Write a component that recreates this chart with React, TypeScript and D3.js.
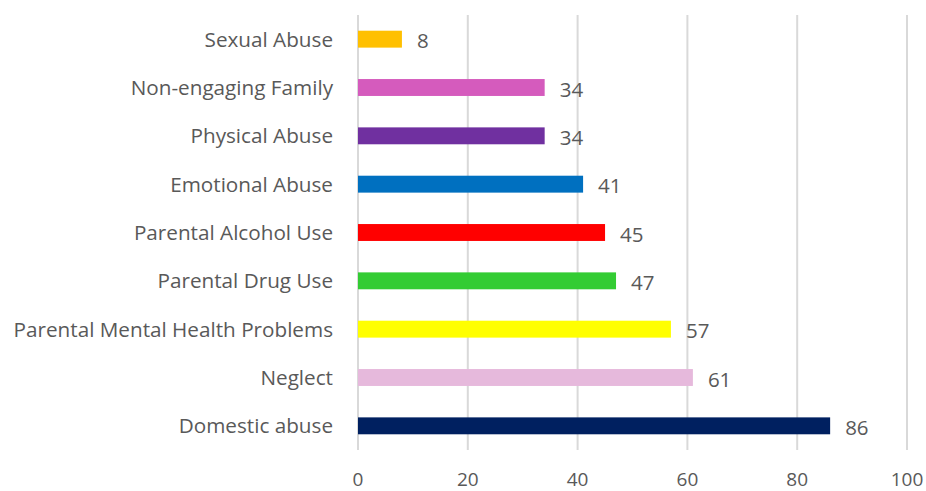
import React from "react";
import * as d3 from "d3";

const categories = [
  "Sexual Abuse",
  "Non-engaging Family",
  "Physical Abuse",
  "Emotional Abuse",
  "Parental Alcohol Use",
  "Parental Drug Use",
  "Parental Mental Health Problems",
  "Neglect",
  "Domestic abuse",
];
const values = [8, 34, 34, 41, 45, 47, 57, 61, 86];
const colors = [
  "#FFC000",
  "#D55BBD",
  "#7030A0",
  "#0070C0",
  "#FF0000",
  "#33CC33",
  "#FFFF00",
  "#E6B9DC",
  "#002060",
];
const ticks = [0, 20, 40, 60, 80, 100];

export default function App() {
  const W = 926;
  const H = 491;
  const x = d3.scaleLinear().domain([0, 100]).range([358, 907]);
  const y = d3
    .scaleBand<string>()
    .domain(categories)
    .range([15, 450])
    .paddingInner(0.65)
    .paddingOuter(0.325);
  const font = "'Open Sans', sans-serif";
  const textColor = "#595959";
  return (
    <svg
      width={W}
      height={H}
      style={{ position: "absolute", left: 0, top: 0, background: "#fff" }}
      fontFamily={font}
    >
      {ticks.map((t) => (
        <g key={t}>
          <line
            x1={x(t)}
            x2={x(t)}
            y1={15}
            y2={450}
            stroke="#D9D9D9"
            strokeWidth={2}
          />
          <text
            x={x(t)}
            y={486}
            textAnchor="middle"
            fontSize={19}
            fill={textColor}
          >
            {t}
          </text>
        </g>
      ))}
      {categories.map((c, i) => {
        const yc = (y(c) as number) + y.bandwidth() / 2;
        return (
          <g key={c}>
            <rect
              x={x(0)}
              y={y(c)}
              width={x(values[i]) - x(0)}
              height={y.bandwidth()}
              fill={colors[i]}
            />
            <text
              x={333}
              y={yc - 0.5}
              textAnchor="end"
              dominantBaseline="central"
              fontSize={20.7}
              fill={textColor}
            >
              {c}
            </text>
            <text
              x={x(values[i]) + 15}
              y={yc + 1}
              dominantBaseline="central"
              fontSize={20.5}
              fill={textColor}
            >
              {values[i]}
            </text>
          </g>
        );
      })}
    </svg>
  );
}
